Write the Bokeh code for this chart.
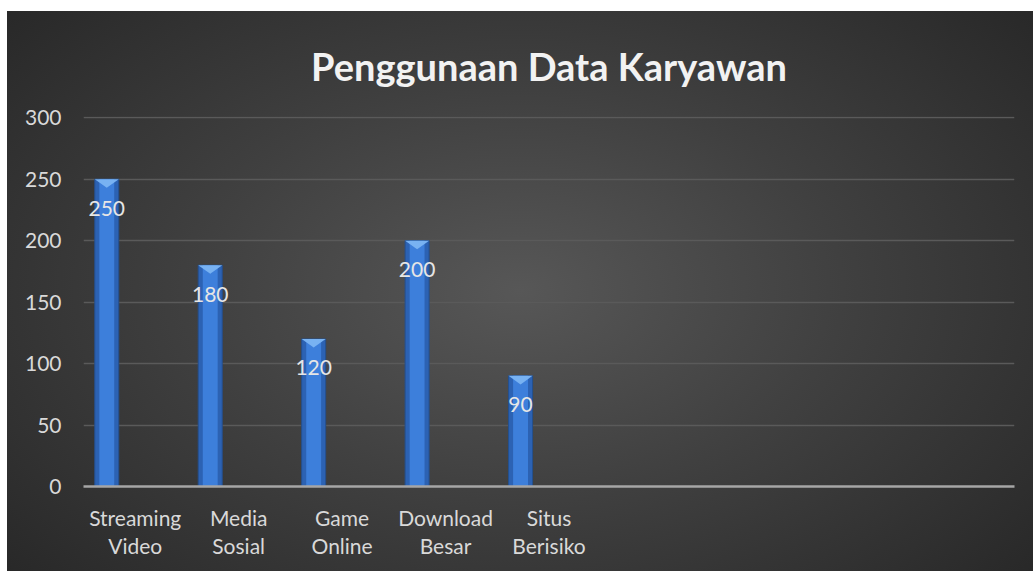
from bokeh.plotting import figure
from bokeh.models import FixedTicker, ColumnDataSource
from bokeh.core.properties import value
from bokeh.embed import file_html
from bokeh.resources import INLINE

# ---- data ----
categories = ["Streaming\nVideo", "Media\nSosial", "Game\nOnline", "Download\nBesar",
              "Situs\nBerisiko", "", "", "", ""]
values = [250, 180, 120, 200, 90]
y_ticks = [0, 50, 100, 150, 200, 250, 300]
title_text = "Penggunaan Data Karyawan"

FONT = "Lato"
n_slots = len(categories)
slot_centers = [i + 0.5 for i in range(n_slots)]
bar_offset = -0.275
bar_w = 0.232

bar_x = [slot_centers[i] + bar_offset for i in range(len(values))]
src = ColumnDataSource(dict(x=bar_x, top=values, lbl=[str(v) for v in values]))

p = figure(width=1026, height=560, x_range=(0, n_slots), y_range=(0, 301),
           output_backend="svg", toolbar_location=None, tools="",
           min_border_left=76, min_border_right=19, min_border_top=105,
           min_border_bottom=85, outline_line_color=None,
           background_fill_alpha=0, border_fill_alpha=0)
p.margin = (11, 0, 0, 7)
p.styles = {"background": "radial-gradient(ellipse 70% 80% at 50% 50%, #575757 0%, #404040 45%, #262626 100%)"}

# title
p.title.text = title_text
p.title.align = "center"
p.title.vertical_align = "middle"
p.title.text_font = FONT
p.title.text_font_size = "38px"
p.title.text_font_style = "bold"
p.title.text_color = "#f2f2f2"
p.title.standoff = 53

# grid
p.xgrid.grid_line_color = None
p.ygrid.ticker = FixedTicker(ticks=y_ticks)
p.ygrid.grid_line_color = "#5a5a5a"
p.ygrid.grid_line_width = 1.5

# y axis
p.yaxis.ticker = FixedTicker(ticks=y_ticks)
p.yaxis.axis_line_color = None
p.yaxis.major_tick_line_color = None
p.yaxis.minor_tick_line_color = None
p.yaxis.major_label_text_font = FONT
p.yaxis.major_label_text_font_size = "21px"
p.yaxis.major_label_text_color = "#d9d9d9"
p.yaxis.major_label_standoff = 16

# x axis
p.xaxis.ticker = FixedTicker(ticks=slot_centers)
p.xaxis.major_label_overrides = {c: lab for c, lab in zip(slot_centers, categories)}
p.xaxis.axis_line_color = "#a6a6a6"
p.xaxis.axis_line_width = 2.5
p.xaxis.major_tick_line_color = None
p.xaxis.minor_tick_line_color = None
p.xaxis.major_label_text_font = FONT
p.xaxis.major_label_text_font_size = "21px"
p.xaxis.major_label_text_color = "#d9d9d9"
p.xaxis.major_label_standoff = 12
p.xaxis.major_label_text_line_height = 1.15

# bars (outer darker edge, inner lighter body)
p.vbar(x="x", top="top", bottom=0, width=bar_w, source=src,
       fill_color="#2c62b3", line_color="#24508f", line_width=1)
p.vbar(x="x", top="top", bottom=0, width=bar_w * 0.62, source=src,
       fill_color="#3d7fdb", line_color=None)

# bevel chevron at the top of each bar
dy = 7.0
xs = [[x - bar_w / 2, x + bar_w / 2, x] for x in bar_x]
ys = [[v, v, v - dy] for v in values]
p.patches(xs=xs, ys=ys, fill_color="#78b2f2", line_color=None)

# value labels
p.text(x="x", y="top", text="lbl", source=src, y_offset=29,
       text_align="center", text_baseline="middle",
       text_font=value(FONT), text_font_size="21px", text_color="#e6e6e6")

open("out.html", "w").write(file_html(p, INLINE))
